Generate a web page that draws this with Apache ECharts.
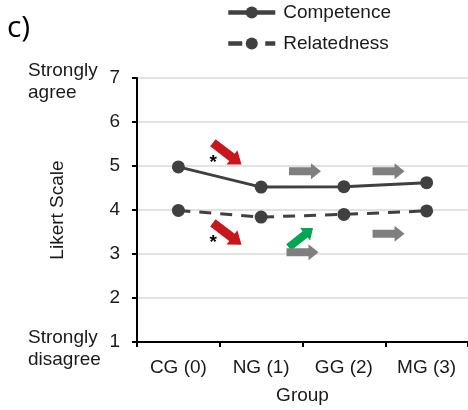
<!DOCTYPE html>
<html>
<head>
<meta charset="utf-8">
<script src="https://cdn.jsdelivr.net/npm/echarts@6/dist/echarts.min.js"></script>
<style>html,body{margin:0;padding:0;background:#fff}#c{width:468px;height:410px}</style>
</head>
<body>
<div id="c"></div>
<script>
const categories = ['CG (0)', 'NG (1)', 'GG (2)', 'MG (3)'];
const competence = [4.98, 4.52, 4.53, 4.62];
const relatedness = [3.99, 3.84, 3.90, 3.98];
const yTicks = [1, 2, 3, 4, 5, 6, 7];
// annotation arrows: [category position, value, kind]
const arrows = [
  [0.59, 5.28, 'red'],
  [1.53, 4.88, 'gray'],
  [2.54, 4.88, 'gray'],
  [0.59, 3.46, 'red'],
  [1.48, 3.37, 'green'],
  [1.50, 3.04, 'gray'],
  [2.54, 3.46, 'gray']
];
const stars = [[0.42, 5.08], [0.42, 3.26]];

const FONT = '"Liberation Sans", Arial, sans-serif';
const FS = 19;
const chart = echarts.init(document.getElementById('c'));
const option = {
  animation: false,
  backgroundColor: '#fff',
  legend: {
    orient: 'vertical', left: 221, top: -2,
    itemWidth: 47, itemHeight: 15, itemGap: 12,
    textStyle: { fontFamily: FONT, fontSize: FS, color: '#1a1a1a', padding: [0, 0, 0, 3] },
    data: [
      { name: 'Competence', lineStyle: { width: 4.5, color: '#404040' } },
      { name: 'Relatedness', lineStyle: { width: 4.5, color: '#404040', type: [14, 23] } }
    ]
  },
  grid: { left: 137, top: 78, bottom: 62, right: -15 },
  xAxis: {
    type: 'category', data: categories, boundaryGap: true,
    name: 'Group', nameLocation: 'middle', nameGap: 44,
    nameTextStyle: { fontFamily: FONT, fontSize: FS, color: '#1a1a1a' },
    axisLine: { lineStyle: { color: '#000', width: 2 } },
    axisTick: { show: true, length: 5, lineStyle: { color: '#000', width: 2 } },
    axisLabel: { fontFamily: FONT, fontSize: FS, color: '#1a1a1a', margin: 16 }
  },
  yAxis: {
    type: 'value', min: 1, max: 7, interval: 1,
    name: 'Likert Scale', nameLocation: 'middle', nameGap: 70,
    nameTextStyle: { fontFamily: FONT, fontSize: FS, color: '#1a1a1a' },
    axisLine: { show: true, lineStyle: { color: '#000', width: 2 } },
    axisTick: { show: true, length: 5, lineStyle: { color: '#000', width: 2 } },
    axisLabel: { fontFamily: FONT, fontSize: FS, color: '#1a1a1a', margin: 17 },
    splitLine: { lineStyle: { color: '#d9d9d9', width: 1.5 } }
  },
  series: [
    {
      name: 'Competence', type: 'line', data: competence,
      symbol: 'circle', symbolSize: 13,
      itemStyle: { color: '#404040' },
      lineStyle: { color: '#404040', width: 3 }
    },
    {
      name: 'Relatedness', type: 'line', data: relatedness,
      symbol: 'circle', symbolSize: 13,
      itemStyle: { color: '#404040' },
      lineStyle: { color: '#404040', width: 3, type: [12, 9] }
    }
  ]
};
chart.setOption(option);

function toPx(pos, val) {
  const i0 = Math.floor(pos), i1 = i0 + 1;
  const a = chart.convertToPixel({ xAxisIndex: 0, yAxisIndex: 0 }, [i0, val]);
  const b = chart.convertToPixel({ xAxisIndex: 0, yAxisIndex: 0 }, [i1, val]);
  const f = pos - i0;
  return [a[0] + (b[0] - a[0]) * f, a[1]];
}
const colors = { red: '#c8161d', gray: '#7f7f7f', green: '#00a651' };
function arrowPoints(len, sh, hh, hl) {
  const h = len / 2;
  return [[-h, -sh], [h - hl, -sh], [h - hl, -hh], [h, 0], [h - hl, hh], [h - hl, sh], [-h, sh]];
}
const graphics = [];
arrows.forEach(function (a) {
  const p = toPx(a[0], a[1]);
  let rot = 0, pts;
  if (a[2] === 'red') { rot = -0.65; pts = arrowPoints(36, 4.5, 9, 12); }
  else if (a[2] === 'green') { rot = 0.67; pts = arrowPoints(31, 4, 8, 10); }
  else { pts = arrowPoints(32, 4, 8, 10); }
  graphics.push({
    type: 'polygon', x: p[0], y: p[1], rotation: rot,
    shape: { points: pts }, style: { fill: colors[a[2]] }, z: 10
  });
});
stars.forEach(function (s) {
  const p = toPx(s[0], s[1]);
  graphics.push({
    type: 'text', x: p[0], y: p[1], z: 11,
    style: { text: '*', fontFamily: FONT, fontSize: 19, fontWeight: 'bold', fill: '#000', align: 'center', verticalAlign: 'middle' }
  });
});
const top7 = chart.convertToPixel({ yAxisIndex: 0 }, 7);
const bot1 = chart.convertToPixel({ yAxisIndex: 0 }, 1);
graphics.push({
  type: 'text', x: 28, y: top7 + 4,
  style: { text: 'Strongly\nagree', fontFamily: FONT, fontSize: FS, lineHeight: 22, fill: '#1a1a1a', align: 'left', verticalAlign: 'middle' }
});
graphics.push({
  type: 'text', x: 28, y: bot1 + 7,
  style: { text: 'Strongly\ndisagree', fontFamily: FONT, fontSize: FS, lineHeight: 22, fill: '#1a1a1a', align: 'left', verticalAlign: 'middle' }
});
graphics.push({
  type: 'text', x: 7, y: 28,
  style: { text: 'c)', fontFamily: '"Open Sans", sans-serif', fontSize: 30, fill: '#000', align: 'left', verticalAlign: 'middle' }
});
chart.setOption({ graphic: graphics });
</script>
</body>
</html>
